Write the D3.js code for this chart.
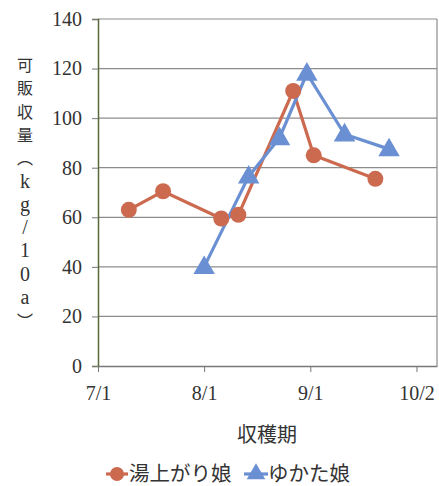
<!DOCTYPE html>
<html>
<head>
<meta charset="utf-8">
<script src="https://cdn.jsdelivr.net/npm/d3@7"></script>
<style>
  body { margin: 0; background: #fff; }
  svg { display: block; }
</style>
</head>
<body>
<svg id="chart" width="439" height="486"></svg>
<script>
// harvest dates (month/day) and marketable yield (kg/10a)
const yuagariDates = ["7/10", "7/20", "8/6", "8/11", "8/27", "9/2", "9/20"];
const yuagariValues = [63, 70.5, 59.5, 61, 111, 85, 75.5];
const yukataDates = ["8/1", "8/14", "8/23", "8/31", "9/11", "9/24"];
const yukataValues = [40, 76.5, 92, 118, 93.5, 87.5];
const xTickLabels = ["7/1", "8/1", "9/1", "10/2"];
const yTicks = [0, 20, 40, 60, 80, 100, 120, 140];
const seriesNames = ["湯上がり娘", "ゆかた娘"];
const yLabelChars = ["可", "販", "収", "量", "︵", "k", "g", "/", "1", "0", "a", "︶"];
const xTitle = "収穫期";

const parseMD = s => { const [m, d] = s.split("/").map(Number); return new Date(2013, m - 1, d); };

const margins = { top: 19, right: 2, bottom: 120, left: 98 };
const width = 439, height = 486;
const plotW = width - margins.left - margins.right;
const plotH = height - margins.top - margins.bottom;

const red = "#cc6a50";
const blue = "#6a8fd2";
const serif = "'Liberation Serif', 'DejaVu Serif', serif";
const jp = "'Noto Sans CJK JP', sans-serif";

const svg = d3.select("#chart");
const g = svg.append("g").attr("transform", `translate(${margins.left},${margins.top})`);

const xScale = d3.scaleTime()
  .domain([parseMD("7/1"), parseMD("10/8")])
  .range([0, plotW]);
const yScale = d3.scaleLinear().domain([0, 140]).range([plotH, 0]);

// gridlines
g.selectAll(".grid").data(yTicks.slice(1)).enter().append("line")
  .attr("x1", 0).attr("x2", plotW)
  .attr("y1", d => yScale(d)).attr("y2", d => yScale(d))
  .attr("stroke", "#8c8c8c").attr("stroke-width", 1.2);

// right border of plot
g.append("line").attr("x1", plotW).attr("x2", plotW).attr("y1", 0).attr("y2", plotH)
  .attr("stroke", "#8c8c8c").attr("stroke-width", 1.2);

// axes
const yAxis = g.append("g")
  .call(d3.axisLeft(yScale).tickValues(yTicks).tickSize(6).tickPadding(10));
yAxis.select(".domain").attr("stroke", "#5a6a3a").attr("stroke-width", 1.5);
yAxis.selectAll(".tick line").attr("stroke", "#777");
yAxis.selectAll("text").attr("font-family", serif).attr("font-size", 20).attr("fill", "#333");

const xAxis = g.append("g").attr("transform", `translate(0,${plotH})`)
  .call(d3.axisBottom(xScale).tickValues(xTickLabels.map(parseMD))
    .tickFormat((d, i) => xTickLabels[i]).tickSize(6).tickPadding(14).tickSizeOuter(0));
xAxis.select(".domain").attr("stroke", "#777").attr("stroke-width", 1.5);
xAxis.selectAll(".tick line").attr("stroke", "#777");
xAxis.selectAll("text").attr("font-family", serif).attr("font-size", 20).attr("fill", "#333");

// series lines
const line = d3.line().x(d => xScale(d[0])).y(d => yScale(d[1]));
const yuagari = yuagariDates.map((d, i) => [parseMD(d), yuagariValues[i]]);
const yukata = yukataDates.map((d, i) => [parseMD(d), yukataValues[i]]);

g.append("path").datum(yuagari).attr("d", line)
  .attr("fill", "none").attr("stroke", red).attr("stroke-width", 3.2);
g.append("path").datum(yukata).attr("d", line)
  .attr("fill", "none").attr("stroke", blue).attr("stroke-width", 3.2);

const triangle = d3.symbol().type(d3.symbolTriangle).size(200);

g.selectAll(".dot").data(yuagari).enter().append("circle")
  .attr("cx", d => xScale(d[0])).attr("cy", d => yScale(d[1])).attr("r", 8)
  .attr("fill", red);
g.selectAll(".tri").data(yukata).enter().append("path")
  .attr("d", triangle)
  .attr("transform", d => `translate(${xScale(d[0])},${yScale(d[1]) + 1})`)
  .attr("fill", blue);

// axis titles
svg.append("text").attr("x", 267).attr("y", 442)
  .attr("text-anchor", "middle").attr("font-family", jp).attr("font-size", 20)
  .attr("fill", "#333").text(xTitle);

// vertical y title, one char per line: CJK in sans, latin in serif
const isLatin = d => /[a-z0-9\/]/.test(d);
svg.selectAll(".ylab").data(yLabelChars).enter().append("text")
  .attr("x", 25).attr("y", (d, i) => 71 + i * 23.3)
  .attr("text-anchor", "middle")
  .attr("font-family", d => isLatin(d) ? serif : jp)
  .attr("font-size", d => isLatin(d) ? 20 : 16)
  .attr("fill", "#333").text(d => d);

// legend
const legend = svg.append("g").attr("transform", "translate(0,474)");
legend.append("line").attr("x1", 106).attr("x2", 128).attr("y1", 0).attr("y2", 0)
  .attr("stroke", red).attr("stroke-width", 3.2);
legend.append("circle").attr("cx", 117).attr("cy", 0).attr("r", 7).attr("fill", red);
legend.append("text").attr("x", 129).attr("y", 7).attr("font-family", jp)
  .attr("font-size", 20.5).attr("fill", "#333").text(seriesNames[0]);
legend.append("line").attr("x1", 244).attr("x2", 268).attr("y1", 0).attr("y2", 0)
  .attr("stroke", blue).attr("stroke-width", 3.2);
legend.append("path").attr("d", d3.symbol().type(d3.symbolTriangle).size(150))
  .attr("transform", "translate(256,0)").attr("fill", blue);
legend.append("text").attr("x", 268).attr("y", 7).attr("font-family", jp)
  .attr("font-size", 20.5).attr("fill", "#333").text(seriesNames[1]);
</script>
</body>
</html>
